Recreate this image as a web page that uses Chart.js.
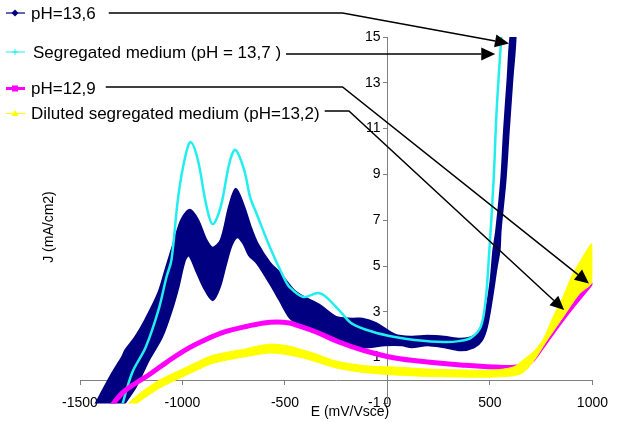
<!DOCTYPE html>
<html>
<head>
<meta charset="utf-8">
<title>J vs E</title>
<script src="https://cdn.jsdelivr.net/npm/chart.js@4.4.1/dist/chart.umd.min.js"></script>
<style>
  html, body { margin: 0; padding: 0; background: #fff; }
  canvas { display: block; }
</style>
</head>
<body>
<canvas id="chart" width="618" height="422"></canvas>
<script>
const FONT = '"Liberation Sans", Arial, sans-serif';

// axes
const xTicks = [-1500, -1000, -500, 0, 500, 1000];
const yTicks = [-1, 1, 3, 5, 7, 9, 11, 13, 15];
const xTitle = 'E (mV/Vsce)';
const yTitle = 'J (mA/cm2)';

// legend labels, same order as in the picture
const labels = ['pH=13,6', 'Segregated medium (pH = 13,7 )', 'pH=12,9', 'Diluted segregated medium (pH=13,2)'];

// pH=13,6 : noisy band, upper edge and lower edge  [E mV, J mA/cm2]
const ph136Upper = [
  [-1434, -1.2], [-1405, -0.72], [-1341, 0.33], [-1293, 1.03], [-1277, 1.33], [-1229, 1.9],
  [-1181, 2.64], [-1117, 3.82], [-1080, 4.9], [-1037, 6.14], [-1005, 7.01], [-964, 7.45],
  [-925, 7.01], [-885, 6.14], [-852, 5.79], [-812, 6.14], [-772, 7.58], [-740, 8.36],
  [-700, 7.58], [-668, 6.7], [-636, 6.0], [-574, 5.13], [-525, 4.69], [-458, 3.95],
  [-411, 3.65], [-334, 3.3], [-251, 2.77], [-170, 2.69], [-122, 2.69], [-59, 2.51],
  [37, 1.99], [118, 1.9], [195, 1.94], [277, 1.9], [358, 1.81], [422, 1.94], [455, 2.29],
  [479, 2.95], [503, 4.26], [518, 5.7], [532, 6.57], [556, 8.76], [570, 10.94], [587, 13.12],
  [604, 15.2]
];
const ph136Lower = [
  [-1300, -1.2], [-1229, -0.28], [-1165, 0.9], [-1101, 1.9], [-1053, 3.08], [-1021, 4.08],
  [-989, 5.26], [-968, 5.48], [-934, 4.83], [-896, 4.08], [-853, 3.52], [-819, 4.08],
  [-790, 5.04], [-761, 5.92], [-732, 6.27], [-703, 6.0], [-675, 5.48], [-636, 5.13],
  [-574, 4.26], [-526, 3.52], [-478, 2.77], [-444, 2.51], [-411, 2.34], [-334, 2.21],
  [-251, 1.77], [-170, 1.46], [-93, 1.46], [-11, 1.55], [70, 1.55], [118, 1.46], [195, 1.55],
  [277, 1.46], [358, 1.33], [422, 1.46], [460, 1.77], [484, 2.34], [508, 3.52], [532, 4.96],
  [546, 5.7], [551, 6.57], [575, 8.76], [591, 10.94], [608, 13.12], [624, 15.2]
];

// Segregated medium (pH = 13,7)
const segregated = [
  [-1298, -1.2], [-1246, 0.33], [-1179, 1.46], [-1117, 3.08], [-1078, 4.52], [-1054, 5.26],
  [-1021, 8.01], [-987, 9.76], [-960, 10.41], [-925, 9.63], [-886, 7.75], [-853, 6.83],
  [-814, 7.57], [-771, 9.5], [-742, 10.07], [-699, 9.19], [-670, 8.01], [-636, 7.23],
  [-574, 5.83], [-507, 4.52], [-478, 4.08], [-411, 3.65], [-339, 3.82], [-300, 3.65],
  [-228, 2.99], [-171, 2.47], [-69, 2.12], [37, 1.9], [133, 1.77], [277, 1.68], [349, 1.72],
  [407, 1.86], [455, 2.34], [479, 3.52], [494, 5.26], [518, 8.76], [532, 11.68], [556, 15.1]
];

// pH=12,9
const ph129 = [
  [-1354, -1.2], [-1294, -0.55], [-1227, -0.11], [-1165, 0.24], [-1083, 0.76], [-987, 1.33],
  [-891, 1.77], [-795, 2.12], [-699, 2.34], [-603, 2.51], [-540, 2.55], [-478, 2.51],
  [-444, 2.42], [-348, 2.12], [-237, 1.68], [-122, 1.33], [37, 0.98], [195, 0.81],
  [358, 0.68], [518, 0.59], [628, 0.59], [695, 0.81], [743, 1.33], [806, 2.12], [902, 3.25],
  [998, 4.3]
];

// Diluted segregated medium (pH=13,2): band, upper edge and lower edge
const dilutedUpper = [
  [-1282, -1.2], [-1246, -0.85], [-1179, -0.37], [-1102, 0.07], [-1021, 0.41], [-939, 0.76],
  [-863, 1.07], [-780, 1.24], [-699, 1.37], [-636, 1.5], [-564, 1.59], [-478, 1.5],
  [-411, 1.33], [-348, 1.16], [-251, 0.85], [-93, 0.63], [37, 0.59], [195, 0.5], [358, 0.46],
  [518, 0.46], [614, 0.59], [662, 0.9], [710, 1.24], [758, 1.77], [806, 2.73], [854, 3.6],
  [902, 4.61], [950, 5.35], [998, 5.96]
];
const dilutedLower = [
  [-1254, -1.2], [-1246, -1.15], [-1179, -0.72], [-1102, -0.28], [-1021, 0.07], [-939, 0.41],
  [-863, 0.72], [-780, 0.9], [-699, 1.03], [-564, 1.2], [-411, 0.98], [-251, 0.55],
  [-93, 0.33], [133, 0.2], [358, 0.15], [518, 0.15], [648, 0.28], [710, 0.81], [773, 1.68],
  [854, 2.73], [936, 3.78], [998, 4.3]
];

// where each legend arrow points to, and where its line bends  [E, J]
const arrowTips = [[593, 14.72], [526, 14.26], [983, 4.24], [862, 3.08]];
const arrowBends = [-219, null, -219, -188];

const NAVY = '#000080', CYAN = '#22EEEE', MAGENTA = '#FF00FF', YELLOW = '#FFFF00';

const pts = (arr) => arr.map(([x, y]) => ({ x, y }));
const band = (up, lo) => pts(up.concat(lo.slice().reverse()));

// legend rows: line y, text baseline, text x, gap before arrow, marker
const rows = [
  { lineY: 13, base: 18.5, textX: 31, gap: 13, color: NAVY, lw: 1.2, mark: 'diamond' },
  { lineY: 54, base: 57.5, textX: 33, gap: 5, color: CYAN, lw: 1, mark: 'star' },
  { lineY: 87, base: 94, textX: 31, gap: 10, color: MAGENTA, lw: 3, mark: 'square' },
  { lineY: 111, base: 119, textX: 31, gap: 5, color: YELLOW, lw: 1, mark: 'triangle' },
];

function drawMark(ctx, kind, x, y, color) {
  ctx.fillStyle = color;
  ctx.strokeStyle = color;
  ctx.beginPath();
  if (kind === 'diamond') {
    ctx.moveTo(x, y - 3.5); ctx.lineTo(x + 3.5, y); ctx.lineTo(x, y + 3.5); ctx.lineTo(x - 3.5, y);
    ctx.closePath(); ctx.fill();
  } else if (kind === 'star') {
    ctx.lineWidth = 1;
    ctx.moveTo(x - 3, y); ctx.lineTo(x + 3, y); ctx.moveTo(x, y - 3); ctx.lineTo(x, y + 3);
    ctx.stroke();
  } else if (kind === 'square') {
    ctx.fillRect(x - 3, y - 3, 6, 6);
  } else {
    ctx.moveTo(x, y - 3.5); ctx.lineTo(x + 3.5, y + 2.5); ctx.lineTo(x - 3.5, y + 2.5);
    ctx.closePath(); ctx.fill();
  }
}

function drawArrow(ctx, p) {
  const n = p.length;
  const [tx, ty] = p[n - 1], [qx, qy] = p[n - 2];
  const a = Math.atan2(ty - qy, tx - qx);
  const len = 14, half = 6.5;
  const bx = tx - len * Math.cos(a), by = ty - len * Math.sin(a);
  ctx.beginPath();
  ctx.moveTo(p[0][0], p[0][1]);
  for (let i = 1; i < n - 1; i++) ctx.lineTo(p[i][0], p[i][1]);
  ctx.lineTo(bx, by);
  ctx.stroke();
  ctx.beginPath();
  ctx.moveTo(tx, ty);
  ctx.lineTo(bx + half * Math.sin(a), by - half * Math.cos(a));
  ctx.lineTo(bx - half * Math.sin(a), by + half * Math.cos(a));
  ctx.closePath();
  ctx.fill();
}

const overlay = {
  id: 'overlay',
  afterDraw(chart) {
    const { ctx } = chart;
    const sx = chart.scales.x, sy = chart.scales.y;
    ctx.save();

    // axis titles
    ctx.fillStyle = '#000';
    ctx.font = '14px ' + FONT;
    ctx.textAlign = 'center';
    ctx.textBaseline = 'alphabetic';
    ctx.fillText(xTitle, 350, 416);
    ctx.save();
    ctx.translate(53, 227);
    ctx.rotate(-Math.PI / 2);
    ctx.fillText(yTitle, 0, 0);
    ctx.restore();

    // legend
    ctx.font = '17px ' + FONT;
    ctx.textAlign = 'left';
    rows.forEach((r, i) => {
      const my = r.base - 5.5;
      ctx.strokeStyle = r.color;
      ctx.lineWidth = r.lw;
      ctx.beginPath(); ctx.moveTo(6, my); ctx.lineTo(25, my); ctx.stroke();
      drawMark(ctx, r.mark, 15, my, r.color);
      ctx.fillStyle = '#000';
      ctx.fillText(labels[i], r.textX, r.base);
    });

    // arrows from the labels to the curves
    ctx.strokeStyle = '#000';
    ctx.fillStyle = '#000';
    ctx.lineWidth = 1.5;
    rows.forEach((r, i) => {
      const x0 = r.textX + ctx.measureText(labels[i]).width + r.gap;
      const p = [[x0, r.lineY]];
      if (arrowBends[i] !== null) p.push([sx.getPixelForValue(arrowBends[i]), r.lineY]);
      p.push([sx.getPixelForValue(arrowTips[i][0]), sy.getPixelForValue(arrowTips[i][1])]);
      drawArrow(ctx, p);
    });
    ctx.restore();
  }
};

const axisGrey = '#808080';

new Chart(document.getElementById('chart'), {
  type: 'line',
  data: {
    datasets: [
      { label: labels[3], data: band(dilutedUpper, dilutedLower), borderColor: YELLOW, backgroundColor: YELLOW,
        borderWidth: 1, fill: 'shape', tension: 0.3, order: 0 },
      { label: labels[2], data: pts(ph129), borderColor: MAGENTA, borderWidth: 5, fill: false,
        tension: 0.4, order: 1 },
      { label: labels[1], data: pts(segregated), borderColor: CYAN, borderWidth: 2.5, fill: false,
        tension: 0.35, order: 2 },
      { label: labels[0], data: band(ph136Upper, ph136Lower), borderColor: NAVY, backgroundColor: NAVY,
        borderWidth: 2.5, fill: 'shape', tension: 0.3, order: 3 },
    ]
  },
  options: {
    responsive: false,
    animation: false,
    devicePixelRatio: 1,
    layout: { padding: { left: 80, right: 18, top: 37, bottom: 18.6 } },
    elements: { point: { radius: 0, hitRadius: 0 } },
    plugins: { legend: { display: false }, tooltip: { enabled: false } },
    scales: {
      x: {
        type: 'linear', min: -1500, max: 1000, position: { y: 0 },
        afterBuildTicks: (s) => { s.ticks = xTicks.map((v) => ({ value: v })); },
        ticks: { callback: (v) => String(v), color: '#000', font: { family: FONT, size: 14 },
                 padding: 10, maxRotation: 0, autoSkip: false },
        grid: { drawOnChartArea: false, drawTicks: true, tickLength: 4, color: axisGrey },
        border: { display: true, color: axisGrey, width: 1 }
      },
      y: {
        type: 'linear', min: -1, max: 15, position: { x: 0 },
        afterBuildTicks: (s) => { s.ticks = yTicks.map((v) => ({ value: v })); },
        // labels of an axis placed at x = 0 sit against the line, keep a small gap
        ticks: { callback: (v) => String(v) + '\u2002', color: '#000', font: { family: FONT, size: 14 },
                 padding: 8, autoSkip: false },
        grid: { drawOnChartArea: false, drawTicks: true, tickLength: 4, color: axisGrey },
        border: { display: true, color: axisGrey, width: 1 }
      }
    }
  },
  plugins: [overlay]
});
</script>
</body>
</html>
